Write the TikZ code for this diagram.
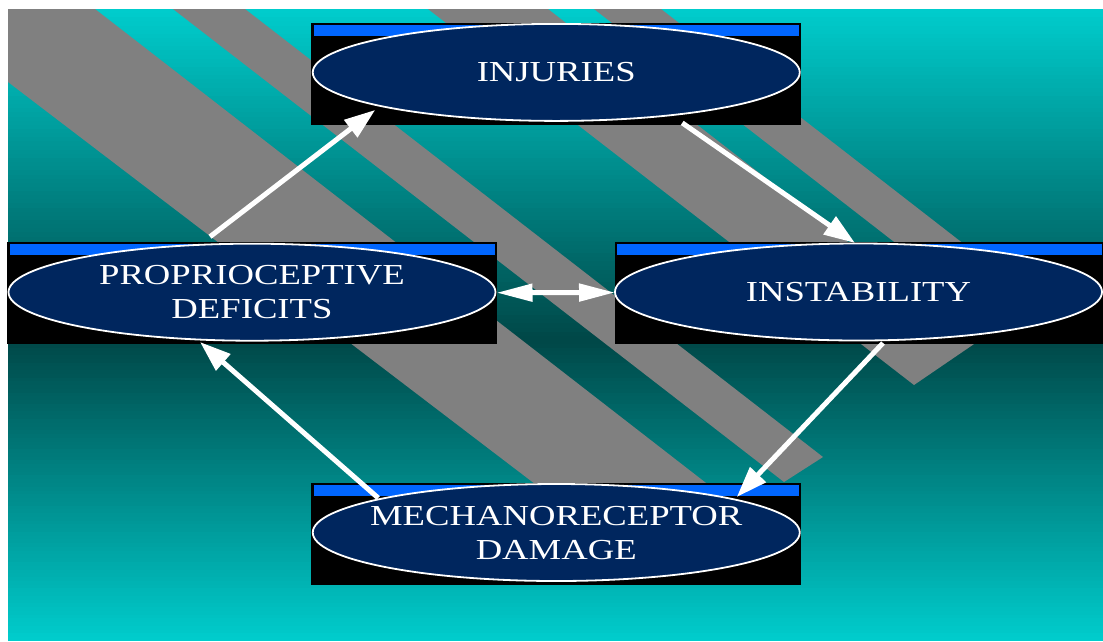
\documentclass[tikz,border=0pt]{standalone}
\usepackage{fontspec}
\newfontfamily\slidefont[FakeStretch=1.265]{Liberation Serif}
\usetikzlibrary{shapes.geometric,arrows.meta,calc}
\definecolor{bgcyan}{RGB}{0,204,204}
\definecolor{bgdark}{RGB}{0,72,72}
\definecolor{bandgray}{RGB}{128,128,128}
\definecolor{stripblue}{RGB}{0,102,255}
\definecolor{ovalnavy}{RGB}{0,38,94}
\begin{document}
\begin{tikzpicture}[x=1pt,y=-1pt,
  slidebox/.style={rectangle,fill=black,draw=black,line width=0.8pt,minimum width=489pt,minimum height=101pt,inner sep=0pt,outer sep=0pt},
  ovalshape/.style={ellipse,fill=ovalnavy,draw=white,line width=1.8pt,minimum width=487pt,minimum height=97pt,inner sep=0pt},
  onetext/.style={text=white,font=\slidefont\fontsize{29}{34}\selectfont,inner sep=0pt,text height=19pt,text depth=0pt},
  twotext/.style={onetext,text width=450pt,align=center,text depth=34pt},
  flowarrow/.style={draw=white,line width=5pt,-{Triangle[length=31pt,width=21pt]}},
  twoway/.style={draw=white,line width=5pt,{Triangle[length=36pt,width=17pt]}-{Triangle[length=36pt,width=17pt]}},
  greyband/.style={fill=bandgray}
]
\useasboundingbox (0,0) rectangle (1103,641);
\fill[white] (0,0) rectangle (1103,641);
% background gradient: cyan -> dark teal -> cyan
\foreach \i in {0,...,79}{
  \pgfmathsetmacro\ya{9+\i*4.1375}
  \pgfmathsetmacro\yb{\ya+4.75}
  \pgfmathtruncatemacro\pc{round(100-\i*100/79)}
  \fill[bgcyan!\pc!bgdark] (8,\ya) rectangle (1103,\yb);
}
\foreach \i in {0,...,79}{
  \pgfmathsetmacro\ya{340+\i*3.7625}
  \pgfmathsetmacro\yb{min(\ya+4.4,641)}
  \pgfmathtruncatemacro\pc{round(\i*100/79)}
  \fill[bgcyan!\pc!bgdark] (8,\ya) rectangle (1103,\yb);
}
% diagonal bands
\fill[greyband] (8,9) -- (95,9) -- (728,500) -- (556,500) -- (8,82) -- cycle;
\fill[greyband] (173,9) -- (245,9) -- (823,457) -- (784,482) -- cycle;
\fill[greyband] (428,9) -- (548,9) -- (977,342) -- (914,385) -- cycle;
\fill[greyband] (594,9) -- (661,9) -- (1036,300) -- (969,300) -- cycle;
% boxes
\node[slidebox] (inj) at (556.25,73.4) {};
\node[slidebox] (pro) at (252,292.7) {};
\node[slidebox] (ins) at (859.5,292.5) {};
\node[slidebox] (mec) at (556.25,533.5) {};
\foreach \b in {inj,pro,ins,mec}{
  \fill[stripblue] ($(\b.north west)+(2,2)$) rectangle ($(\b.north east)+(-2,13)$);
}
\node[ovalshape] (injO) at ($(inj)+(0,-1)$) {};
\node[ovalshape] (proO) at ($(pro)+(0,-0.5)$) {};
\node[ovalshape] (insO) at ($(ins)+(-1,-0.5)$) {};
\node[ovalshape] (mecO) at ($(mec)+(0,-1)$) {};
\node[onetext] (injT) at (injO) {INJURIES};
\node[onetext] (insT) at (insO) {INSTABILITY};
\node[twotext] (proT) at (proO) {PROPRIOCEPTIVE\\DEFICITS};
\node[twotext] (mecT) at (mecO) {MECHANORECEPTOR\\DAMAGE};
% arrow ends
\coordinate (a1s) at ($(pro)+(-42,-56)$);
\coordinate (a1e) at ($(inj)+(-181,36.5)$);
\coordinate (a2s) at ($(inj)+(126,49.5)$);
\coordinate (a2e) at ($(ins)+(-4.5,-49.5)$);
\coordinate (a3s) at ($(ins)+(23.5,50.5)$);
\coordinate (a3e) at ($(mec)+(180.5,-36.5)$);
\coordinate (a4s) at ($(mec)+(-178,-35.5)$);
\coordinate (a4e) at ($(pro)+(-52,49.3)$);
\draw[flowarrow] (a1s) -- (a1e);
\draw[flowarrow] (a2s) -- (a2e);
\draw[flowarrow] (a3s) -- (a3e);
\draw[flowarrow] (a4s) -- (a4e);
\draw[twoway] (pro.east) -- (ins.west);
\end{tikzpicture}
\end{document}
